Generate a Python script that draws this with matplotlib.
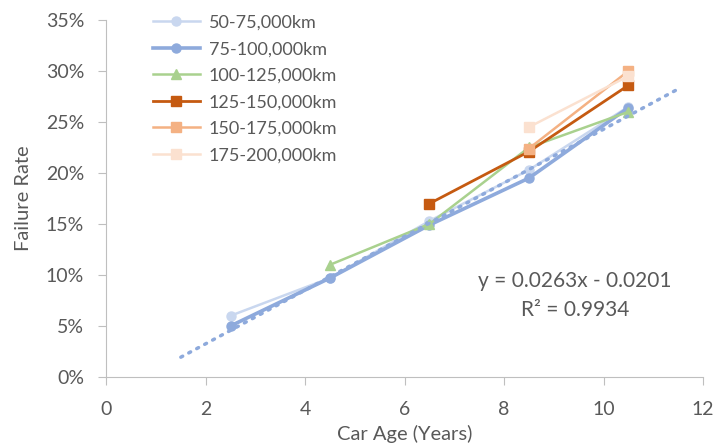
import numpy as np
import matplotlib.pyplot as plt
from matplotlib.ticker import PercentFormatter

# data
ages = [2.5, 4.5, 6.5, 8.5, 10.5]
bands = ["50-75,000km", "75-100,000km", "100-125,000km",
         "125-150,000km", "150-175,000km", "175-200,000km"]
rates = [
    [0.060, 0.097, 0.153, 0.203, 0.265],
    [0.050, 0.097, 0.149, 0.195, 0.264],
    [None, 0.110, 0.150, 0.225, 0.260],
    [None, None, 0.170, 0.221, 0.286],
    [None, None, None, 0.224, 0.300],
    [None, None, None, 0.245, 0.295],
]
colors = ["#c9d7ef", "#8eaadc", "#a9d18e", "#c55a11", "#f4b183", "#fbe1d0"]
markers = ["o", "o", "^", "s", "s", "s"]
widths = [1.8, 2.6, 1.8, 2.0, 1.8, 1.8]

# trendline (from the chart label)
slope, intercept, r2 = 0.0263, -0.0201, 0.9934
trend_x = [1.5, 11.5]

txt = "#595959"
plt.rcParams["font.family"] = ["Lato", "DejaVu Sans"]

fig = plt.figure(figsize=(7.13, 4.45), dpi=100)
ax = fig.add_axes([0.149, 0.153, 0.837, 0.802])

for name, vals, c, m, w in zip(bands, rates, colors, markers, widths):
    xs = [a for a, v in zip(ages, vals) if v is not None]
    ys = [v for v in vals if v is not None]
    ax.plot(xs, ys, color=c, marker=m, markersize=6.5, lw=w, label=name)

tx = np.array(trend_x)
ax.plot(tx, slope * tx + intercept, color="#8eaadc", lw=2.5,
        linestyle=(0, (0.6, 2.0)), dash_capstyle="round")

ax.text(9.42, 0.080, f"y = {slope}x - {abs(intercept)}\nR² = {r2}",
        ha="center", va="center", color=txt, fontsize=15, linespacing=1.55)

ax.set_xlim(0, 12)
ax.set_ylim(0, 0.35)
ax.set_xticks(range(0, 13, 2))
ax.set_yticks(np.arange(0, 0.351, 0.05))
ax.yaxis.set_major_formatter(PercentFormatter(1.0, decimals=0))

for s in ["top", "right"]:
    ax.spines[s].set_visible(False)
for s in ["left", "bottom"]:
    ax.spines[s].set_color("#bfbfbf")
ax.tick_params(colors="#bfbfbf", labelcolor=txt, labelsize=14, length=6)
ax.tick_params(axis="x", pad=11)
ax.tick_params(axis="y", pad=10)

ax.set_xlabel("Car Age (Years)", color=txt, fontsize=14.5, labelpad=5)
ax.set_ylabel("Failure Rate", color=txt, fontsize=14.5, labelpad=10)

leg = ax.legend(loc="upper left", bbox_to_anchor=(0.06, 1.045), frameon=False,
                fontsize=13, labelcolor=txt, handlelength=2.6,
                handletextpad=0.5, labelspacing=0.58, borderaxespad=0.2)

fig.savefig("out.png", dpi=100)
